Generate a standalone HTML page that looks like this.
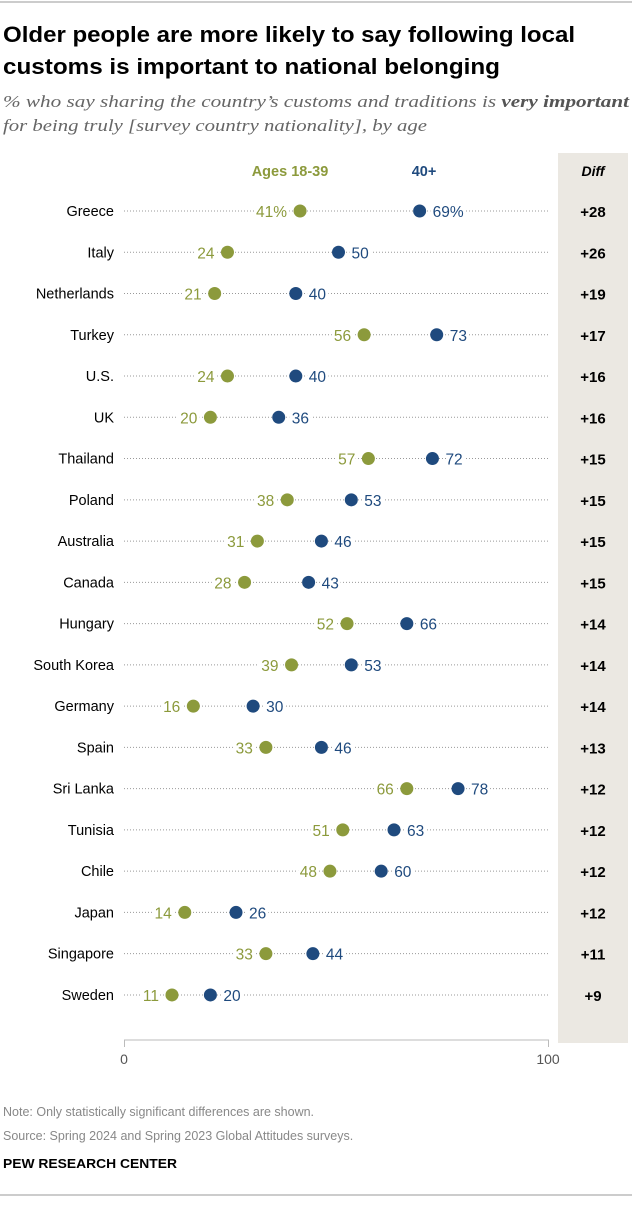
<!DOCTYPE html>
<html><head><meta charset="utf-8">
<style>
body{margin:0;background:#fff;}
svg text{font-family:"Liberation Sans",sans-serif;}
</style></head>
<body>
<svg width="640" height="1200" xmlns="http://www.w3.org/2000/svg">
<line x1="0" y1="2" x2="632" y2="2" stroke="#999" stroke-width="1"/>
<g font-weight="bold" font-size="22" fill="#000">
<text x="3" y="42" textLength="572" lengthAdjust="spacingAndGlyphs">Older people are more likely to say following local</text>
<text x="3" y="74" textLength="497" lengthAdjust="spacingAndGlyphs">customs is important to national belonging</text>
</g>
<g font-size="17" fill="#666" font-style="italic">
<text x="3" y="107" style="font-family:'Liberation Serif',serif" textLength="626" lengthAdjust="spacingAndGlyphs">% who say sharing the country’s customs and traditions is <tspan font-weight="bold" fill="#555">very important</tspan></text>
<text x="3" y="131" style="font-family:'Liberation Serif',serif" textLength="424" lengthAdjust="spacingAndGlyphs">for being truly [survey country nationality], by age</text>
</g>
<rect x="558" y="153" width="70" height="890" fill="#ebe8e2"/>
<text x="593" y="176" text-anchor="middle" font-weight="bold" font-style="italic" font-size="14">Diff</text>
<text x="290" y="176" text-anchor="middle" font-weight="bold" font-size="14.5" fill="#8c9a3c">Ages 18-39</text>
<text x="424" y="176" text-anchor="middle" font-weight="bold" font-size="14.5" fill="#1f4a7e">40+</text>
<g id="rows"></g>
<path d="M124.5 1047 V1040 H548.5 V1047" fill="none" stroke="#bbb" stroke-width="1"/>
<text x="124" y="1064" text-anchor="middle" font-size="14" fill="#555">0</text>
<text x="548" y="1064" text-anchor="middle" font-size="14" fill="#555">100</text>
<g font-size="12.5" fill="#888">
<text x="3" y="1116">Note: Only statistically significant differences are shown.</text>
<text x="3" y="1140">Source: Spring 2024 and Spring 2023 Global Attitudes surveys.</text>
</g>
<text x="3" y="1168" font-weight="bold" font-size="13" textLength="174" lengthAdjust="spacingAndGlyphs">PEW RESEARCH CENTER</text>
<line x1="0" y1="1195" x2="632" y2="1195" stroke="#999" stroke-width="1"/>
</svg>
<script>
const countries=["Greece","Italy","Netherlands","Turkey","U.S.","UK","Thailand","Poland","Australia","Canada","Hungary","South Korea","Germany","Spain","Sri Lanka","Tunisia","Chile","Japan","Singapore","Sweden"];
const young=[41,24,21,56,24,20,57,38,31,28,52,39,16,33,66,51,48,14,33,11];
const older=[69,50,40,73,40,36,72,53,46,43,66,53,30,46,78,63,60,26,44,20];
const diffs=["+28","+26","+19","+17","+16","+16","+15","+15","+15","+15","+14","+14","+14","+13","+12","+12","+12","+12","+11","+9"];
const NS="http://www.w3.org/2000/svg";
const x=v=>125+v*4.27;
const y=i=>211+i*41.26;
const g=document.getElementById('rows');
function mk(t,a){const e=document.createElementNS(NS,t);for(const k in a)e.setAttribute(k,a[k]);return e;}
countries.forEach((c,i)=>{
  const yy=y(i);
  const row=mk('g',{});
  
  
  const ln=mk('line',{x1:124,y1:yy,x2:550,y2:yy,stroke:'#999','stroke-width':1,'stroke-dasharray':'1,2'});
  
  
  row.appendChild(ln);
  const lab=mk('text',{x:114,y:yy+5,'text-anchor':'end','font-size':14.5,fill:'#000'});
  lab.textContent=c;
  
  
  row.appendChild(lab);
  const pct=i===0?'%':'';
  const yt=mk('text',{x:x(young[i])-13,y:yy+6,'text-anchor':'end','font-size':15.5,fill:'#8c9a3c',stroke:'#fff','stroke-width':6,'paint-order':'stroke'});
  yt.textContent=young[i]+pct;
  
  
  row.appendChild(yt);
  const ot=mk('text',{x:x(older[i])+13,y:yy+6,'text-anchor':'start','font-size':15.5,fill:'#1f4a7e',stroke:'#fff','stroke-width':6,'paint-order':'stroke'});
  ot.textContent=older[i]+pct;
  
  
  row.appendChild(ot);
  const d1=mk('circle',{cx:x(young[i]),cy:yy,r:6.5,fill:'#8c9a3c'});
  
  
  row.appendChild(d1);
  const d2=mk('circle',{cx:x(older[i]),cy:yy,r:6.5,fill:'#1f4a7e'});
  
  
  row.appendChild(d2);
  const dt=mk('text',{x:593,y:yy+6,'text-anchor':'middle','font-size':15,'font-weight':'bold',fill:'#000'});
  dt.textContent=diffs[i];
  
  
  row.appendChild(dt);
  g.appendChild(row);
});
</script>
</body></html>
